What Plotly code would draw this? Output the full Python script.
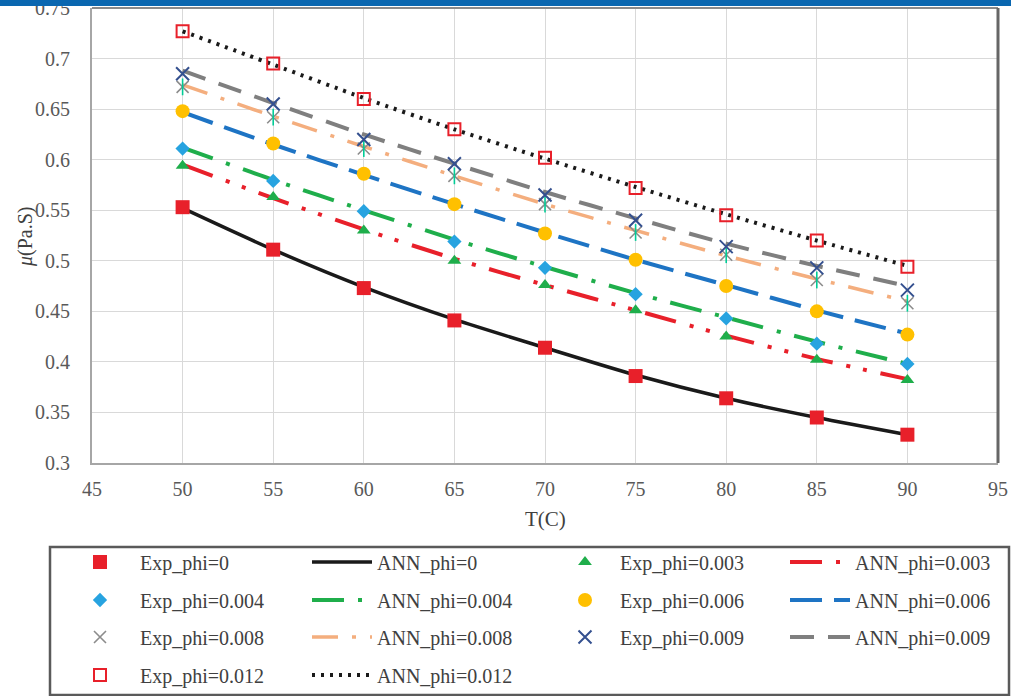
import plotly.graph_objects as go

# Temperature (C)
temperature = [50, 55, 60, 65, 70, 75, 80, 85, 90]

# Measured viscosity (Pa.S) for each nanoparticle volume fraction
exp_phi_0 = [0.553, 0.511, 0.473, 0.441, 0.414, 0.386, 0.364, 0.345, 0.328]
exp_phi_0003 = [0.594, 0.563, 0.530, 0.500, 0.476, 0.451, 0.425, 0.402, 0.382]
exp_phi_0004 = [0.611, 0.579, 0.549, 0.519, 0.493, 0.467, 0.443, 0.418, 0.398]
exp_phi_0006 = [0.648, 0.616, 0.586, 0.556, 0.527, 0.501, 0.475, 0.450, 0.427]
exp_phi_0008 = [0.672, 0.642, 0.611, 0.584, 0.556, 0.528, 0.506, 0.481, 0.458]
exp_phi_0009 = [0.685, 0.655, 0.620, 0.596, 0.565, 0.540, 0.514, 0.493, 0.471]
exp_phi_0012 = [0.727, 0.695, 0.660, 0.630, 0.602, 0.572, 0.545, 0.520, 0.494]

# ANN predicted viscosity (Pa.S)
ann_phi_0 = [0.552, 0.511, 0.474, 0.442, 0.414, 0.387, 0.364, 0.345, 0.328]
ann_phi_0003 = [0.595, 0.562, 0.531, 0.502, 0.476, 0.451, 0.426, 0.403, 0.383]
ann_phi_0004 = [0.612, 0.580, 0.550, 0.521, 0.494, 0.468, 0.444, 0.420, 0.398]
ann_phi_0006 = [0.647, 0.615, 0.585, 0.556, 0.528, 0.501, 0.476, 0.451, 0.428]
ann_phi_0008 = [0.674, 0.643, 0.613, 0.584, 0.556, 0.530, 0.505, 0.482, 0.460]
ann_phi_0009 = [0.688, 0.656, 0.625, 0.596, 0.568, 0.542, 0.517, 0.495, 0.475]
ann_phi_0012 = [0.727, 0.694, 0.661, 0.630, 0.601, 0.573, 0.546, 0.520, 0.495]

x_ticks = [45, 50, 55, 60, 65, 70, 75, 80, 85, 90, 95]
y_ticks = [0.3, 0.35, 0.4, 0.45, 0.5, 0.55, 0.6, 0.65, 0.7, 0.75]

SERIF = "Liberation Serif"
W, H = 1011, 696
PLOT_L, PLOT_R, PLOT_T, PLOT_B = 92, 998, 8, 463

# ANN curves: (name, values, colour, width, dash)
ann_series = [
    ("ANN_phi=0", ann_phi_0, "#1a1a1a", 3.5, "solid"),
    ("ANN_phi=0.003", ann_phi_0003, "#E8202A", 4, "32px,14px,4px,13px,4px,14px"),
    ("ANN_phi=0.004", ann_phi_0004, "#1FAE4B", 4, "32px,14px,4px,14px"),
    ("ANN_phi=0.006", ann_phi_0006, "#1E74C4", 4, "32px,12px"),
    ("ANN_phi=0.008", ann_phi_0008, "#F4AE7E", 3.5, "26px,14px,4px,14px"),
    ("ANN_phi=0.009", ann_phi_0009, "#7F7F7F", 4, "24px,14px"),
    ("ANN_phi=0.012", ann_phi_0012, "#1a1a1a", 4, "3px,6px"),
]

# Experimental points: (name, values, symbol, size, fill, line colour, line width)
exp_series = [
    ("Exp_phi=0", exp_phi_0, "square", 14, "#E8202A", "#E8202A", 0),
    ("Exp_phi=0.003", exp_phi_0003, "triangle-up", 12, "#1FAE4B", "#1FAE4B", 0),
    ("Exp_phi=0.004", exp_phi_0004, "diamond", 11, "#27A3E0", "#27A3E0", 0),
    ("Exp_phi=0.006", exp_phi_0006, "circle", 14, "#FFC000", "#FFC000", 0),
    ("Exp_phi=0.008", exp_phi_0008, "x-thin-open", 12, "#8C8C8C", "#8C8C8C", 1.6),
    ("Exp_phi=0.009", exp_phi_0009, "x-thin-open", 13, "#34508F", "#34508F", 2),
    ("Exp_phi=0.012", exp_phi_0012, "square-open", 12, "#E8202A", "#E8202A", 2),
]

# Legend grid: 4 columns x 4 rows, filled row by row
legend_order = [
    "Exp_phi=0", "ANN_phi=0", "Exp_phi=0.003", "ANN_phi=0.003",
    "Exp_phi=0.004", "ANN_phi=0.004", "Exp_phi=0.006", "ANN_phi=0.006",
    "Exp_phi=0.008", "ANN_phi=0.008", "Exp_phi=0.009", "ANN_phi=0.009",
    "Exp_phi=0.012", "ANN_phi=0.012",
]
col_x = [60, 307, 550, 785]
col_itemwidth = [70, 60, 60, 60]
row_y = [562, 600, 637, 675]

legend_key = {}
legend_layouts = {}
for i, name in enumerate(legend_order):
    key = "legend" if i == 0 else f"legend{i + 1}"
    legend_key[name] = key
    col, row = i % 4, i // 4
    legend_layouts[key] = dict(
        xref="container", yref="container",
        x=col_x[col] / W, y=1 - row_y[row] / H,
        xanchor="left", yanchor="middle",
        orientation="v",
        itemwidth=col_itemwidth[col],
        bgcolor="rgba(0,0,0,0)", borderwidth=0,
        font=dict(family=SERIF, size=20, color="#404040"),
    )

fig = go.Figure()

for name, vals, color, width, dash in ann_series:
    fig.add_trace(go.Scatter(
        x=temperature, y=vals, name=name, mode="lines",
        line=dict(color=color, width=width, dash=dash, shape="spline", smoothing=0.8),
        legend=legend_key[name],
    ))

for name, vals, symbol, size, fill, lcolor, lwidth in exp_series:
    fig.add_trace(go.Scatter(
        x=temperature, y=vals, name=name, mode="markers",
        marker=dict(symbol=symbol, size=size, color=fill,
                    line=dict(color=lcolor, width=lwidth)),
        legend=legend_key[name],
    ))
    if name == "Exp_phi=0.008":
        # vertical stroke completing the star marker
        fig.add_trace(go.Scatter(
            x=temperature, y=vals, mode="markers", showlegend=False,
            marker=dict(symbol="line-ns-open", size=12,
                        line=dict(color=lcolor, width=1.6)),
        ))

pw = PLOT_R - PLOT_L
ph = PLOT_B - PLOT_T


def px_x(v):
    return (v - PLOT_L) / pw


def px_y(v):
    return (PLOT_B - v) / ph


shapes = [
    # top and right frame of the plot area
    dict(type="line", xref="paper", yref="paper", x0=0, x1=1, y0=1, y1=1,
         line=dict(color="#8A8A8A", width=2), layer="above"),
    dict(type="line", xref="paper", yref="paper", x0=1, x1=1, y0=0, y1=1,
         line=dict(color="#666666", width=3), layer="above"),
    # legend frame
    dict(type="rect", xref="paper", yref="paper",
         x0=px_x(50), x1=px_x(1009), y0=px_y(547), y1=px_y(695),
         line=dict(color="#5A5A5A", width=2.5), fillcolor="rgba(0,0,0,0)"),
    # header band
    dict(type="rect", xref="paper", yref="paper",
         x0=px_x(0), x1=px_x(W), y0=px_y(6), y1=px_y(-2),
         line=dict(width=0), fillcolor="#0A67B0", layer="above"),
]

annotations = [
    dict(text="T(C)", xref="paper", yref="paper", x=px_x(545), y=px_y(519),
         showarrow=False, xanchor="center", yanchor="middle",
         font=dict(family=SERIF, size=21, color="#404040")),
    dict(text="<i>μ</i>(Pa.S)", xref="paper", yref="paper", x=px_x(25), y=px_y(237),
         showarrow=False, xanchor="center", yanchor="middle", textangle=-90,
         font=dict(family=SERIF, size=20, color="#404040")),
]

fig.update_layout(
    width=W, height=H,
    margin=dict(l=PLOT_L, r=W - PLOT_R, t=PLOT_T, b=H - PLOT_B, autoexpand=False),
    paper_bgcolor="white", plot_bgcolor="white",
    font=dict(family=SERIF, color="#595959"),
    shapes=shapes,
    annotations=annotations,
    **legend_layouts,
)

fig.update_xaxes(
    range=[45, 95], tickvals=x_ticks, ticktext=[str(t) for t in x_ticks],
    showgrid=True, gridcolor="#D9D9D9", gridwidth=1,
    showline=True, linecolor="#A6A6A6", linewidth=2, zeroline=False,
    ticks="", ticklabelstandoff=7, ticklabeloverflow="allow",
    tickfont=dict(family=SERIF, size=20, color="#595959"),
)
fig.update_yaxes(
    range=[0.3, 0.75], tickvals=y_ticks, ticktext=[f"{t:g}" for t in y_ticks],
    showgrid=True, gridcolor="#D9D9D9", gridwidth=1,
    showline=True, linecolor="#A6A6A6", linewidth=2, zeroline=False,
    ticks="", ticklabelstandoff=16, ticklabeloverflow="allow",
    tickfont=dict(family=SERIF, size=20, color="#595959"),
)

fig.write_html("out.html")
